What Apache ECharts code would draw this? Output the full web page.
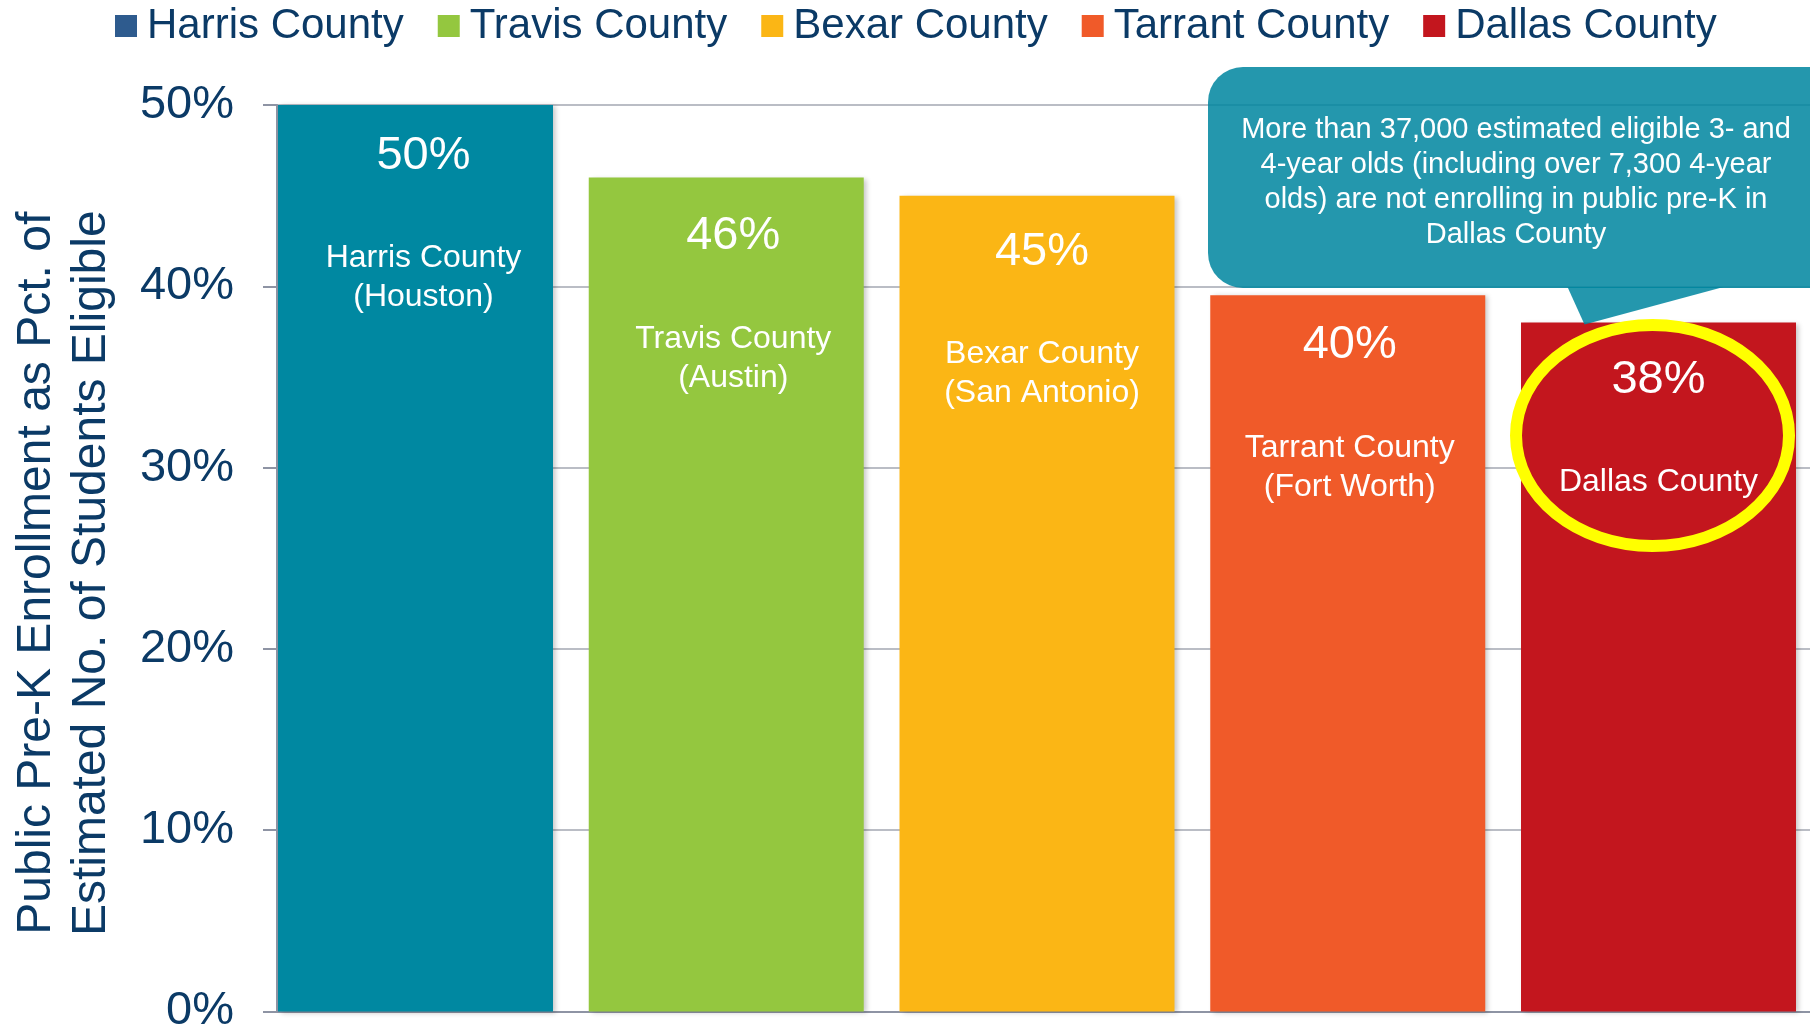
<!DOCTYPE html>
<html>
<head>
<meta charset="utf-8">
<script src="https://cdn.jsdelivr.net/npm/echarts@6/dist/echarts.min.js"></script>
<style>
html,body{margin:0;padding:0;background:#fff;}
#chart{width:1810px;height:1035px;}
</style>
</head>
<body>
<div id="chart"></div>
<script>
// ---- data ----
const categories = ['Harris County', 'Travis County', 'Bexar County', 'Tarrant County', 'Dallas County'];
const values = [50, 46, 45, 39.5, 38];
const barSubLabels = [['Harris County', '(Houston)'], ['Travis County', '(Austin)'], ['Bexar County', '(San Antonio)'], ['Tarrant County', '(Fort Worth)'], ['Dallas County']];
const yTicks = [0, 10, 20, 30, 40, 50];
const yAxisTitle = 'Public Pre-K Enrollment as Pct. of\nEstimated No. of Students Eligible';
const calloutText = 'More than 37,000 estimated eligible 3- and\n4-year olds (including over 7,300 4-year\nolds) are not enrolling in public pre-K in\nDallas County';
const highlightIndex = 4;

// ---- styles ----
const barColors = ['#0088A1', '#94C73F', '#FBB615', '#F05A29', '#C3161E'];
const legendColors = ['#2E5B8E', '#94C73F', '#FBB615', '#F05A29', '#C3161E'];
const labelShift = [[8, 1], [7, 9], [5, 6], [2, 0], [0, 7]];
const NAVY = '#0B3A66';
const FONT = '"Liberation Sans", Arial, sans-serif';

const chart = echarts.init(document.getElementById('chart'), null, {renderer: 'canvas'});

const series = categories.map((name, i) => ({
  name: name,
  type: 'bar',
  barWidth: 275,
  barGap: '-100%',
  data: [[i, values[i]]],
  itemStyle: {
    color: barColors[i],
    shadowColor: 'rgba(0,0,0,0.22)',
    shadowBlur: 5,
    shadowOffsetX: 3,
    shadowOffsetY: 1
  },
  label: {
    show: true,
    position: 'insideTop',
    distance: 20,
    offset: labelShift[i],
    formatter: (p) => {
      let s = '{p|' + Math.round(p.value[1]) + '%}\n{s| }';
      barSubLabels[i].forEach(l => { s += '\n{n|' + l + '}'; });
      return s;
    },
    rich: {
      p: {fontSize: 47, lineHeight: 60, color: '#fff', fontFamily: FONT, align: 'center'},
      s: {fontSize: 2, lineHeight: 53},
      n: {fontSize: 32, lineHeight: 39, color: '#fff', fontFamily: FONT, align: 'center'}
    }
  }
}));

chart.setOption({
  animation: false,
  textStyle: {fontFamily: FONT},
  legend: {
    left: 115,
    top: 5,
    padding: 0,
    icon: 'rect',
    itemWidth: 22,
    itemHeight: 22,
    itemGap: 34,
    selectedMode: false,
    textStyle: {fontSize: 42, color: NAVY, fontFamily: FONT, padding: [0, 0, 0, 5]},
    data: categories.map((c, i) => ({name: c, itemStyle: {color: legendColors[i]}}))
  },
  grid: {left: 277, top: 105, right: 0, height: 911, containLabel: false},
  xAxis: {
    type: 'value',
    min: -0.4457,
    max: 4.4875,
    axisLine: {show: true, onZero: false, lineStyle: {color: '#8E94A4', width: 2}},
    axisTick: {show: false},
    axisLabel: {show: false},
    splitLine: {show: false}
  },
  yAxis: {
    type: 'value',
    min: yTicks[0],
    max: yTicks[yTicks.length - 1],
    interval: 10,
    axisLine: {show: true, onZero: false, lineStyle: {color: '#8E94A4', width: 2}},
    axisTick: {show: true, length: 14, lineStyle: {color: '#8E94A4', width: 2}},
    axisLabel: {formatter: '{value}%', fontSize: 47, color: NAVY, margin: 43, fontFamily: FONT, padding: [8, 0, 0, 0]},
    splitLine: {show: true, lineStyle: {color: '#A3A7B2', width: 1.5}},
    name: yAxisTitle,
    nameLocation: 'middle',
    nameRotate: 90,
    nameGap: 158,
    nameTextStyle: {fontSize: 48, lineHeight: 55, color: NAVY, fontFamily: FONT, align: 'center', padding: [0, 30, 0, 0]}
  },
  series: series
});

// annotations anchored to the Dallas bar
const barTop = chart.convertToPixel({xAxisIndex: 0, yAxisIndex: 0}, [highlightIndex, values[highlightIndex]]);
const cx = barTop[0], ty = barTop[1];
const boxBottom = 288;
chart.setOption({
  graphic: [
    {
      type: 'rect', z: 100,
      shape: {x: 1208, y: 67, width: 640, height: boxBottom - 67, r: 35},
      style: {fill: 'rgba(0,134,160,0.86)'}
    },
    {
      type: 'polygon', z: 100,
      shape: {points: [[cx - 91, boxBottom - 1], [cx + 65, boxBottom - 1], [cx - 74, ty + 2]]},
      style: {fill: 'rgba(0,134,160,0.86)'}
    },
    {
      type: 'text', z: 101,
      x: 1516, y: 182.5,
      style: {
        text: calloutText, fill: '#fff', fontSize: 29, lineHeight: 35,
        fontFamily: FONT, align: 'center', verticalAlign: 'middle'
      }
    },
    {
      type: 'ellipse', z: 101,
      shape: {cx: cx - 6, cy: ty + 113, rx: 136.5, ry: 110.5},
      style: {fill: 'none', stroke: '#FFFF00', lineWidth: 12}
    }
  ]
});
</script>
</body>
</html>
